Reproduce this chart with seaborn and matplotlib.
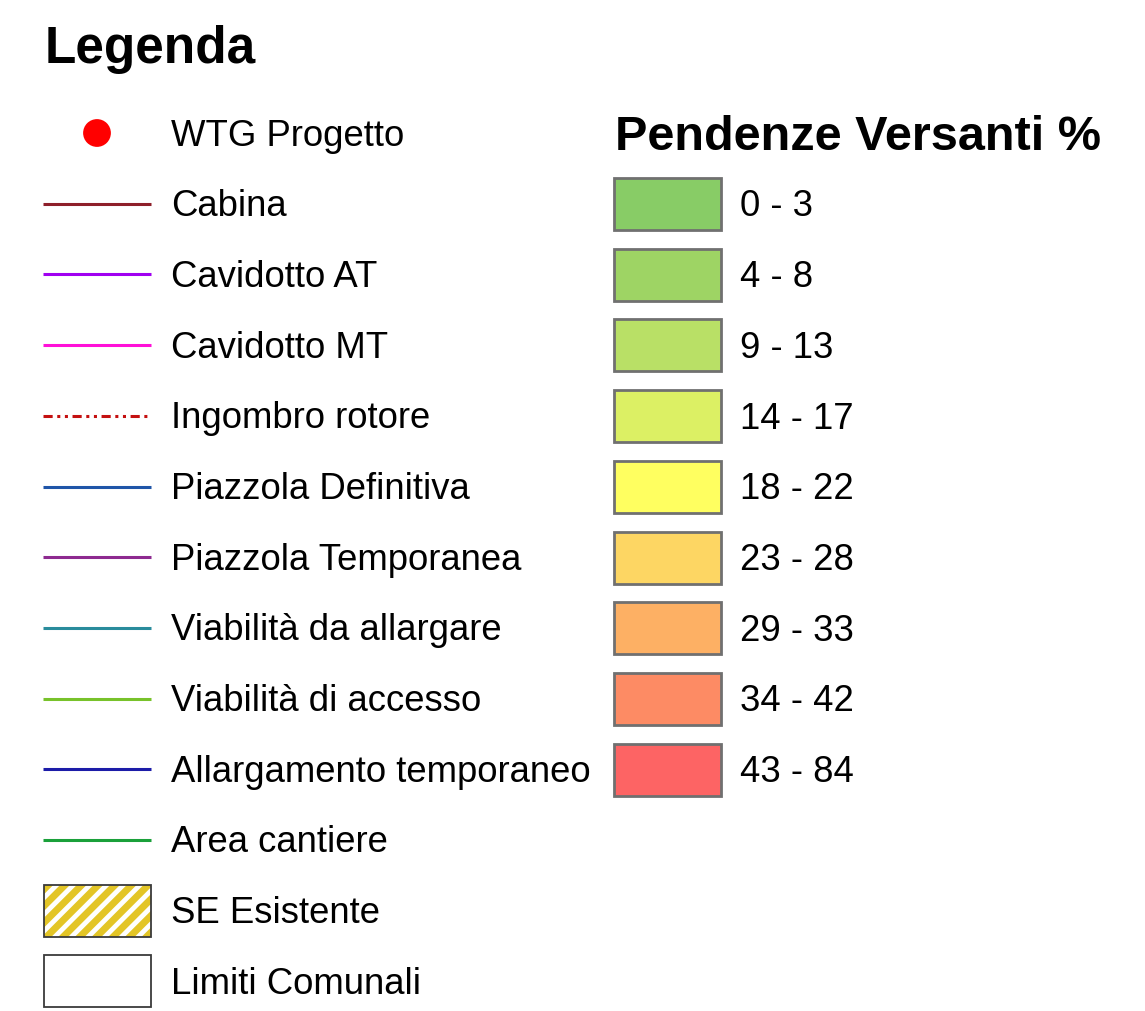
import matplotlib.pyplot as plt
import seaborn as sns
import pandas as pd

# legend entries, left column
point_label = 'WTG Progetto'
line_labels = ['Cabina', 'Cavidotto AT', 'Cavidotto MT', 'Ingombro rotore',
               'Piazzola Definitiva', 'Piazzola Temporanea', 'Viabilità da allargare',
               'Viabilità di accesso', 'Allargamento temporaneo', 'Area cantiere']
line_colors = ['#8e1f2a', '#a000f0', '#ff10d8', '#c41010', '#1f55a8', '#8e2a90',
               '#2a8c9c', '#78c22a', '#1c1ca8', '#1aa03a']
line_styles = ['-', '-', '-', (0, (3, 1.5, 1, 1.5, 1, 1.5)), '-', '-', '-', '-', '-', '-']
patch_labels = ['SE Esistente', 'Limiti Comunali']

# slope classes, right column
class_labels = ['0 - 3', '4 - 8', '9 - 13', '14 - 17', '18 - 22',
                '23 - 28', '29 - 33', '34 - 42', '43 - 84']
class_colors = ['#88cc66', '#9ed464', '#b9e066', '#dcf064', '#ffff60',
                '#fdd663', '#fdb064', '#fd8b64', '#fd6464']

sns.set_style('white')
plt.rcParams['font.family'] = ['Liberation Sans', 'DejaVu Sans']
plt.rcParams['text.color'] = 'black'
plt.rcParams['hatch.linewidth'] = 5.0

fig = plt.figure(figsize=(11.45, 10.11), dpi=100)
ax = fig.add_axes([0, 0, 1, 1])
ax.set_xlim(0, 1145)
ax.set_ylim(1011, 0)
ax.axis('off')

fs = 26.3
step = 70.7
y0 = 133
dy = 3  # text nudge so glyphs sit centred on the symbols

ax.text(45, 50, 'Legenda', fontsize=37, fontweight='bold', va='center')

# point marker
pts = pd.DataFrame({'x': [97], 'y': [y0]})
sns.scatterplot(data=pts, x='x', y='y', color='#ff0000', s=400, edgecolor='none', ax=ax)
ax.text(171, y0 + dy, point_label, fontsize=fs, va='center')

for i, (lab, col, ls) in enumerate(zip(line_labels, line_colors, line_styles)):
    y = y0 + step * (i + 1)
    ax.plot([43, 151], [y, y], color=col, lw=2.2, ls=ls, solid_capstyle='butt')
    ax.text(171, y + dy, lab, fontsize=fs, va='center')

# hatched patch and empty patch
for j, lab in enumerate(patch_labels):
    y = y0 + step * (len(line_labels) + 1 + j)
    if j == 0:
        ax.add_patch(plt.Rectangle((44, y - 26), 107, 52, facecolor='white',
                                   edgecolor='#e3c526', hatch='//', lw=0))
    ax.add_patch(plt.Rectangle((44, y - 26), 107, 52, facecolor='none',
                               edgecolor='#3a3a3a', lw=1.3))
    ax.text(171, y + dy, lab, fontsize=fs, va='center')

# slope classes
ax.text(615, 138, 'Pendenze Versanti %', fontsize=35, fontweight='bold', va='center')
for k, (lab, col) in enumerate(zip(class_labels, class_colors)):
    y = 204 + step * k
    ax.add_patch(plt.Rectangle((614, y - 26), 107, 52, facecolor=col,
                               edgecolor='#707070', lw=2))
    ax.text(740, y + dy, lab, fontsize=fs, va='center')

fig.savefig('out.png', dpi=100)
